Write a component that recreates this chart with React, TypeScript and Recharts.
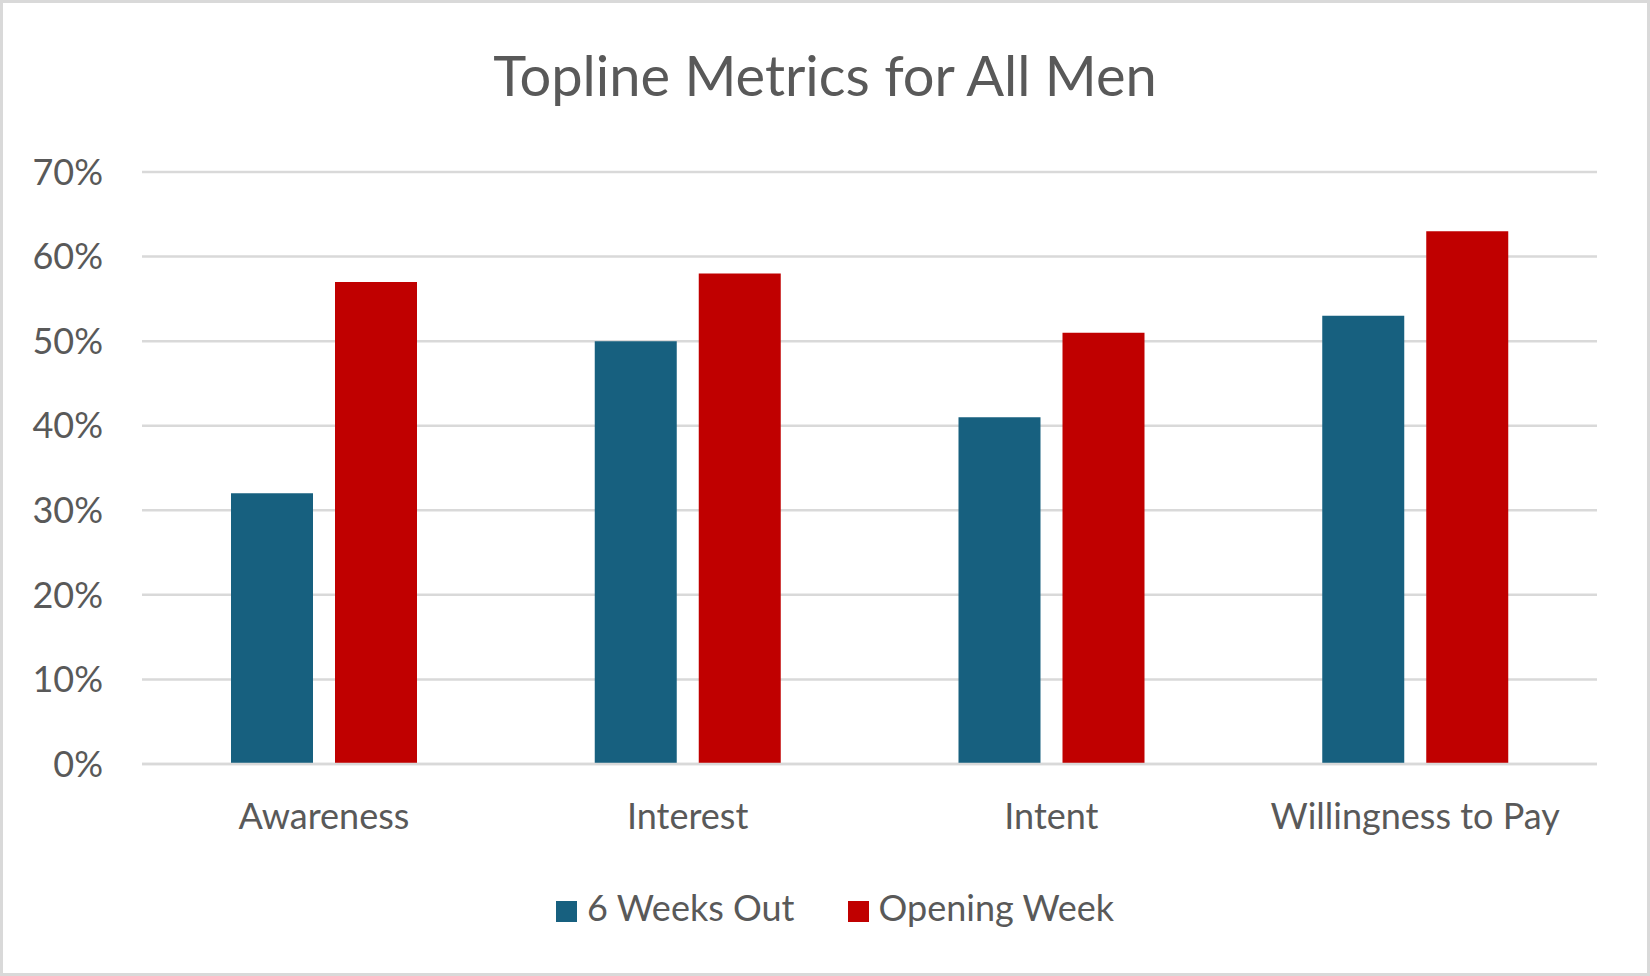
import React from 'react';
import { BarChart, Bar, XAxis, YAxis, CartesianGrid, Legend } from 'recharts';

const categories = ['Awareness', 'Interest', 'Intent', 'Willingness to Pay'];
const sixWeeksOut = [32, 50, 41, 53];
const openingWeek = [57, 58, 51, 63];
const yTicks = [0, 10, 20, 30, 40, 50, 60, 70];

const data = categories.map((name, i) => ({
  name,
  sixWeeks: sixWeeksOut[i],
  opening: openingWeek[i],
}));

const FONT = 'Lato, "Noto Sans", sans-serif';
const TEXT = '#595959';
const GRID = '#D9D9D9';

export default function App() {
  return (
    <div
      style={{
        position: 'absolute',
        left: 0,
        top: 0,
        width: 1650,
        height: 976,
        background: '#fff',
        fontFamily: FONT,
      }}
    >
      <div
        style={{
          position: 'absolute',
          left: 0,
          top: 47,
          width: 1650,
          textAlign: 'center',
          fontSize: 56,
          lineHeight: 1,
          color: TEXT,
        }}
      >
        Topline Metrics for All Men
      </div>

      <div style={{ position: 'absolute', left: 0, top: 0 }}>
        <BarChart
          width={1650}
          height={976}
          data={data}
          margin={{ top: 172, right: 53, bottom: 132, left: 32 }}
          barSize={82}
          barGap={22}
        >
          <CartesianGrid vertical={false} stroke={GRID} strokeWidth={2.5} />
          <XAxis
            dataKey="name"
            height={80}
            axisLine={{ stroke: GRID, strokeWidth: 2.5 }}
            tickLine={false}
            tickSize={0}
            tickMargin={39}
            tick={{ fill: TEXT, fontSize: 36, fontFamily: FONT }}
            interval={0}
          />
          <YAxis
            width={110}
            domain={[0, 70]}
            ticks={yTicks}
            tickFormatter={(v) => `${v}%`}
            axisLine={false}
            tickLine={false}
            tickSize={0}
            tickMargin={39}
            tick={{ fill: TEXT, fontSize: 36, fontFamily: FONT }}
          />
          <Legend
            verticalAlign="middle"
            align="center"
            iconType="square"
            iconSize={21}
            wrapperStyle={{ top: 885, left: 15, width: 1650, fontSize: 36, fontFamily: FONT }}
            formatter={(value, _entry, index) => (
              <span style={{ color: TEXT, marginLeft: 6, marginRight: index === 0 ? 43 : 0 }}>{value}</span>
            )}
          />
          <Bar dataKey="sixWeeks" name="6 Weeks Out" fill="#17607F" isAnimationActive={false} />
          <Bar dataKey="opening" name="Opening Week" fill="#C00000" isAnimationActive={false} />
        </BarChart>
      </div>

      <div
        style={{
          position: 'absolute',
          left: 0,
          top: 0,
          width: 1650,
          height: 976,
          boxSizing: 'border-box',
          border: `3px solid ${GRID}`,
          pointerEvents: 'none',
        }}
      />
    </div>
  );
}
